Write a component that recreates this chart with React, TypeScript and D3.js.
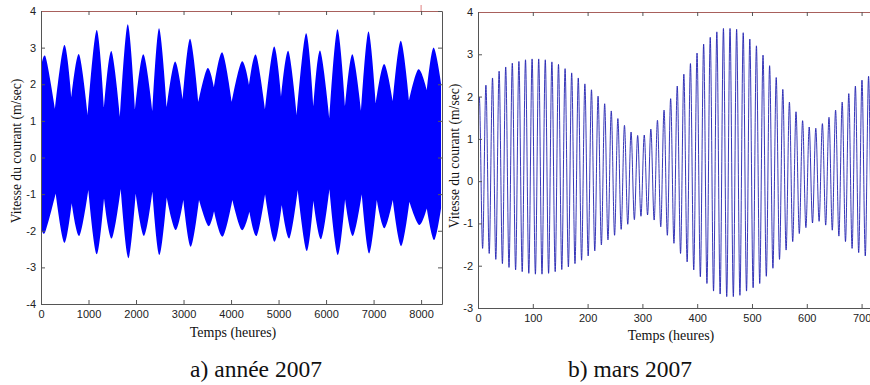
import React, { useEffect, useRef } from "react";
import * as d3 from "d3";

// a) année 2007 : enveloppe haute / basse du signal (heure, vitesse m/s)
const anneeHaut: [number, number][] = [
  [0, 2.44], [99, 2.74], [295, 1.32], [491, 3.07], [638, 1.64], [800, 2.82],
  [983, 1.16], [1172, 3.48], [1326, 1.37], [1480, 2.91], [1663, 1.11], [1825, 3.64],
  [1979, 1.32], [2154, 2.82], [2344, 1.25], [2484, 3.53], [2646, 1.39], [2821, 2.62],
  [2983, 1.57], [3137, 3.24], [3312, 1.52], [3502, 2.44], [3640, 1.92], [3817, 2.87],
  [4014, 1.52], [4225, 2.62], [4379, 1.98], [4526, 2.8], [4716, 1.3], [4905, 3.03],
  [5053, 1.66], [5206, 2.91], [5383, 1.16], [5579, 3.39], [5733, 1.41], [5874, 2.92],
  [6070, 1.07], [6238, 3.5], [6400, 1.41], [6554, 2.82], [6737, 1.25], [6891, 3.44],
  [7046, 1.48], [7221, 2.55], [7404, 1.52], [7572, 3.19], [7747, 1.57], [7943, 2.41],
  [8120, 1.84], [8259, 3.0], [8420, 2.03],
];
const anneeBas: [number, number][] = [
  [0, -1.84], [84, -2.05], [309, -0.98], [491, -2.33], [646, -1.25], [806, -2.14],
  [996, -0.89], [1172, -2.64], [1326, -1.11], [1488, -2.21], [1678, -0.86], [1838, -2.75],
  [1993, -0.98], [2168, -2.14], [2344, -0.93], [2491, -2.66], [2646, -1.09], [2835, -1.98],
  [2996, -1.16], [3151, -2.44], [3326, -1.16], [3522, -1.87], [3642, -1.47], [3825, -2.16],
  [4028, -1.16], [4225, -1.98], [4386, -1.48], [4540, -2.14], [4716, -1.0], [4912, -2.3],
  [5067, -1.3], [5227, -2.21], [5404, -0.89], [5593, -2.55], [5733, -1.18], [5895, -2.23],
  [6070, -0.87], [6246, -2.66], [6400, -1.14], [6562, -2.14], [6751, -1.0], [6905, -2.62],
  [7067, -1.16], [7227, -1.93], [7404, -1.16], [7579, -2.42], [7754, -1.21], [7958, -1.84],
  [8120, -1.39], [8274, -2.25], [8420, -1.39],
];

// b) mars 2007 : maxima et minima successifs de chaque marée
const marsDebut = 1.5;
const marsPremierPic = 2.4; // heure du premier maximum
const marsDemiPeriode = 6.02; // heures entre un maximum et le minimum suivant
const marsMax = [
  1.99, 2.27, 2.44, 2.6, 2.7, 2.79, 2.83, 2.87, 2.89, 2.89, 2.87, 2.82, 2.76, 2.66, 2.56,
  2.44, 2.3, 2.16, 2.01, 1.83, 1.66, 1.48, 1.32, 1.16, 1.08, 1.09, 1.23, 1.44, 1.68, 1.95,
  2.25, 2.53, 2.78, 3.03, 3.24, 3.4, 3.53, 3.61, 3.61, 3.59, 3.51, 3.36, 3.2, 2.98, 2.73,
  2.45, 2.17, 1.87, 1.64, 1.43, 1.28, 1.25, 1.36, 1.51, 1.68, 1.87, 2.07, 2.25, 2.39, 2.48,
  2.55,
];
const marsMin = [
  -1.59, -1.71, -1.85, -1.95, -2.04, -2.1, -2.14, -2.18, -2.2, -2.2, -2.18, -2.14, -2.09,
  -2.03, -1.95, -1.87, -1.77, -1.65, -1.51, -1.39, -1.28, -1.14, -1.02, -0.91, -0.83, -0.8,
  -0.92, -1.08, -1.28, -1.47, -1.71, -1.91, -2.1, -2.26, -2.42, -2.6, -2.67, -2.73, -2.73,
  -2.7, -2.6, -2.52, -2.42, -2.25, -2.06, -1.85, -1.63, -1.43, -1.24, -1.1, -0.99, -0.95,
  -1.04, -1.16, -1.3, -1.43, -1.59, -1.69, -1.77, -1.84,
];

const anneeTicksX = [0, 1000, 2000, 3000, 4000, 5000, 6000, 7000, 8000];
const anneeTicksY = [-4, -3, -2, -1, 0, 1, 2, 3, 4];
const marsTicksX = [0, 100, 200, 300, 400, 500, 600, 700];
const marsTicksY = [-3, -2, -1, 0, 1, 2, 3, 4];

const App = () => {
  const ref = useRef<SVGSVGElement>(null);

  useEffect(() => {
    const svg = d3.select(ref.current);
    svg.selectAll("*").remove();

    const frame = (x, y, tx, ty, top) => {
      const [x0, x1] = x.range();
      const [y0, y1] = y.range();
      const g = svg.append("g");
      const fmt = (d) => String(d);
      const styleAxis = (a) =>
        a
          .attr("color", "#555")
          .style("font-family", "'Liberation Sans', Arial, sans-serif")
          .style("font-size", "11px")
          .call((s) => s.selectAll("text").attr("fill", "#222"));

      g.append("g")
        .attr("transform", `translate(0,${y0})`)
        .call(d3.axisBottom(x).tickValues(tx).tickFormat(fmt).tickSizeInner(-4).tickSizeOuter(0).tickPadding(6))
        .call(styleAxis);
      g.append("g")
        .attr("transform", `translate(${x0},0)`)
        .call(d3.axisLeft(y).tickValues(ty).tickFormat(fmt).tickSizeInner(-4).tickSizeOuter(0).tickPadding(5))
        .call(styleAxis);
      g.append("g")
        .attr("transform", `translate(0,${y1})`)
        .call(d3.axisTop(x).tickValues(tx).tickSizeInner(-4).tickSizeOuter(0).tickFormat(() => ""))
        .call(styleAxis)
        .call((s) => s.select(".domain").attr("stroke", top));
      g.append("g")
        .attr("transform", `translate(${x1},0)`)
        .call(d3.axisRight(y).tickValues(ty).tickSizeInner(-4).tickSizeOuter(0).tickFormat(() => ""))
        .call(styleAxis);
    };

    // ---- a) année 2007
    const xa = d3.scaleLinear().domain([0, 8440]).range([41, 442]);
    const ya = d3.scaleLinear().domain([-4, 4]).range([304, 11]);
    const arche = d3
      .line<[number, number]>()
      .x((d) => xa(d[0]))
      .y((d) => ya(d[1]))
      .curve(d3.curveCardinal.tension(0));
    // arches arrondies sur les extrêmes, pointes aux creux
    const enveloppe = (pts: [number, number][]) => {
      let d = "";
      for (let i = 0; i + 2 < pts.length; i += 2) {
        const s = arche(pts.slice(i, i + 3));
        d += i === 0 ? s : "L" + s.slice(1);
      }
      return d;
    };
    const haut = enveloppe(anneeHaut);
    const bas = enveloppe(anneeBas.slice().reverse());
    svg
      .append("path")
      .attr("d", haut + "L" + bas.slice(1) + "Z")
      .attr("fill", "#0000ff");
    frame(xa, ya, anneeTicksX, anneeTicksY, "#a8605c");
    svg
      .append("line")
      .attr("x1", xa(8000))
      .attr("x2", xa(8000))
      .attr("y1", 5)
      .attr("y2", 11)
      .attr("stroke", "#e08080");

    // ---- b) mars 2007
    const xb = d3.scaleLinear().domain([0, 744]).range([478, 885.7]);
    const yb = d3.scaleLinear().domain([-3, 4]).range([308, 12]);
    const pts: [number, number][] = [[0, marsDebut]];
    marsMax.forEach((v, i) => {
      pts.push([marsPremierPic + 2 * i * marsDemiPeriode, v]);
      if (i < marsMin.length)
        pts.push([marsPremierPic + (2 * i + 1) * marsDemiPeriode, marsMin[i]]);
    });
    svg
      .append("clipPath")
      .attr("id", "clipMars")
      .append("rect")
      .attr("x", 478)
      .attr("y", 12)
      .attr("width", 408)
      .attr("height", 296);
    svg
      .append("path")
      .datum(pts)
      .attr("clip-path", "url(#clipMars)")
      .attr("fill", "none")
      .attr("stroke", "#2020b0")
      .attr("stroke-width", 0.9)
      .attr(
        "d",
        d3
          .line<[number, number]>()
          .x((d) => xb(d[0]))
          .y((d) => yb(d[1]))
          .curve(d3.curveMonotoneX)
      );
    frame(xb, yb, marsTicksX, marsTicksY, "#a8605c");

    // ---- textes
    const serif = "'Liberation Serif', 'Times New Roman', serif";
    const texte = (x, y, t, size, rot = false) =>
      svg
        .append("text")
        .attr("transform", `translate(${x},${y})` + (rot ? " rotate(-90)" : ""))
        .attr("text-anchor", "middle")
        .style("font-family", serif)
        .style("font-size", size + "px")
        .attr("fill", "#111")
        .text(t);

    texte(233, 337, "Temps (heures)", 14);
    texte(671, 340, "Temps (heures)", 14);
    texte(21, 151, "Vitesse du courant (m/sec)", 13.6, true);
    texte(459, 156, "Vitesse du courant (m/sec)", 13.6, true);
    texte(256, 377, "a) année 2007", 23.5);
    texte(630, 377, "b) mars 2007", 23.5);
  }, []);

  return (
    <svg
      ref={ref}
      width={870}
      height={385}
      style={{ position: "absolute", left: 0, top: 0, background: "#fff" }}
    />
  );
};

export default App;
